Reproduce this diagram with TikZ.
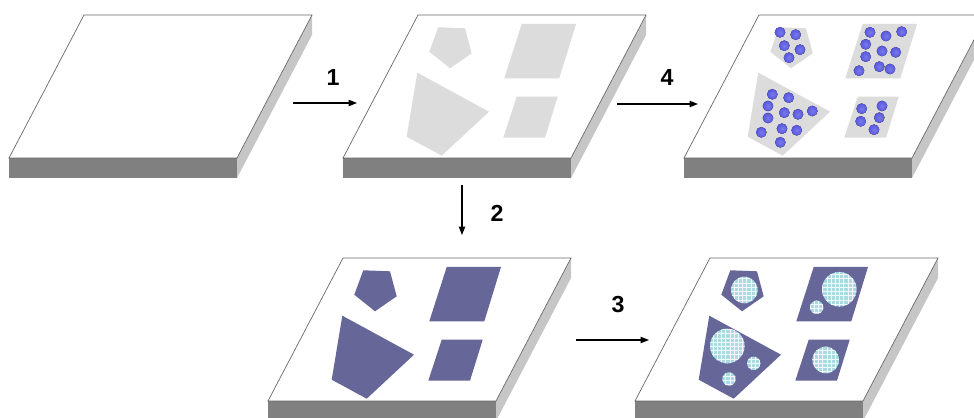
\documentclass[tikz,border=0pt]{standalone}
\usepackage{fontspec}
\setmainfont{Liberation Sans}
\usetikzlibrary{arrows.meta,patterns}

\definecolor{padgray}{RGB}{220,220,220}
\definecolor{maskblue}{RGB}{102,102,153}
\definecolor{dotblue}{RGB}{92,92,232}
\definecolor{meshcyan}{RGB}{172,218,226}
\definecolor{frontgray}{RGB}{128,128,128}
\definecolor{sidegray}{RGB}{198,198,198}
\definecolor{rimgray}{RGB}{105,105,105}

\tikzset{
  pics/slab/.style={code={
    \fill[sidegray] (153,143) -- (228,0) -- (228,20) -- (153,163) -- cycle;
    \fill[frontgray] (-75,143) rectangle (153,163);
    \draw[rimgray,fill=white,line width=0.5pt] (0,0) -- (228,0) -- (153,143) -- (-75,143) -- cycle;
  }},
  pics/pads/.style={code={
    \fill[#1] (20.3,12.3) -- (47,13.3) -- (53.7,38.3) -- (32,53.3) -- (11.3,36.7) -- cycle;
    \fill[#1] (103.7,9) -- (158,9) -- (141.3,63.3) -- (86.3,63.3) -- cycle;
    \fill[#1] (-0.7,57.7) -- (71,96.7) -- (23.7,140.7) -- (-11.3,121.7) -- cycle;
    \fill[#1] (98.7,81.7) -- (139.7,81.7) -- (127,122.7) -- (85.3,122.7) -- cycle;
  }},
  dot/.style={inner color=dotblue!82!white, outer color=dotblue!95!black, shading=radial},
  mesh/.style={fill=meshcyan, postaction={pattern=grid, pattern color=white!85!meshcyan}},
  flow/.style={-{Triangle[length=6pt,width=4.5pt]}, line width=0.9pt},
  steplabel/.style={font=\bfseries\fontsize{16.5}{16.5}\selectfont}
}

\begin{document}
\begin{tikzpicture}[x=0.025cm,y=-0.025cm]
  \useasboundingbox (0,0) rectangle (974,418);
  \clip (0,0) rectangle (974,418);
  % bare substrate
  \pic at (84,15) {slab};
  % step 1: patterned pads
  \pic at (418,15) {slab};
  \pic at (418,15) {pads=padgray};
  % step 4: dots on the pads
  \pic at (759,15) {slab};
  \pic at (759,15) {pads=padgray};
  \begin{scope}[shift={(759,15)}]
    \foreach \x/\y in {21/17.3,36.7/19.7,25.3/30.7,41/34.7,30/42.7,
                       111/17.3,127/21,142.7/16.7,106.7/29.3,123/36,136.7/37.3,
                       106.7/41.7,120.3/51.7,131/54,100/55.7,
                       13.3/79.3,29.7/82.7,9/91,25.3/97.7,39/99.3,53.3/96,
                       9/103,23/113.7,37.7/115.3,2.3/117.3,21.3/127.3,
                       102.7/93.7,123/91,101.7/106.3,120.3/102.7,115/114.7}
      \fill[dot] (\x,\y) circle (5.3);
  \end{scope}
  % step 2: masked pads
  \pic at (343,258) {slab};
  \pic at (343,258) {pads=maskblue};
  % step 3: openings in the mask
  \pic at (710,258) {slab};
  \pic at (710,258) {pads=maskblue};
  \begin{scope}[shift={(710,258)}]
    \foreach \x/\y/\r in {34.3/32/13.3,129.3/31.3/17.3,106.7/49.3/6.7,
                          17.3/88/17.3,43.7/105.3/6.7,19/121/6.7,115.7/102/13.3}
      \fill[mesh] (\x,\y) circle (\r);
  \end{scope}
  % arrows
  \coordinate (a1s) at (293,103);
  \coordinate (a1e) at (357,103);
  \coordinate (a4s) at (617,104);
  \coordinate (a4e) at (698,104);
  \coordinate (a2s) at (462,185);
  \coordinate (a2e) at (462,235);
  \coordinate (a3s) at (576,340);
  \coordinate (a3e) at (649,340);
  \draw[flow] (a1s) -- (a1e);
  \draw[flow] (a4s) -- (a4e);
  \draw[flow] (a2s) -- (a2e);
  \draw[flow] (a3s) -- (a3e);
  % labels
  \node[steplabel] (l1) at (333,78) {1};
  \node[steplabel] (l4) at (667,78) {4};
  \node[steplabel] (l2) at (497,213) {2};
  \node[steplabel] (l3) at (618,305) {3};
\end{tikzpicture}
\end{document}
